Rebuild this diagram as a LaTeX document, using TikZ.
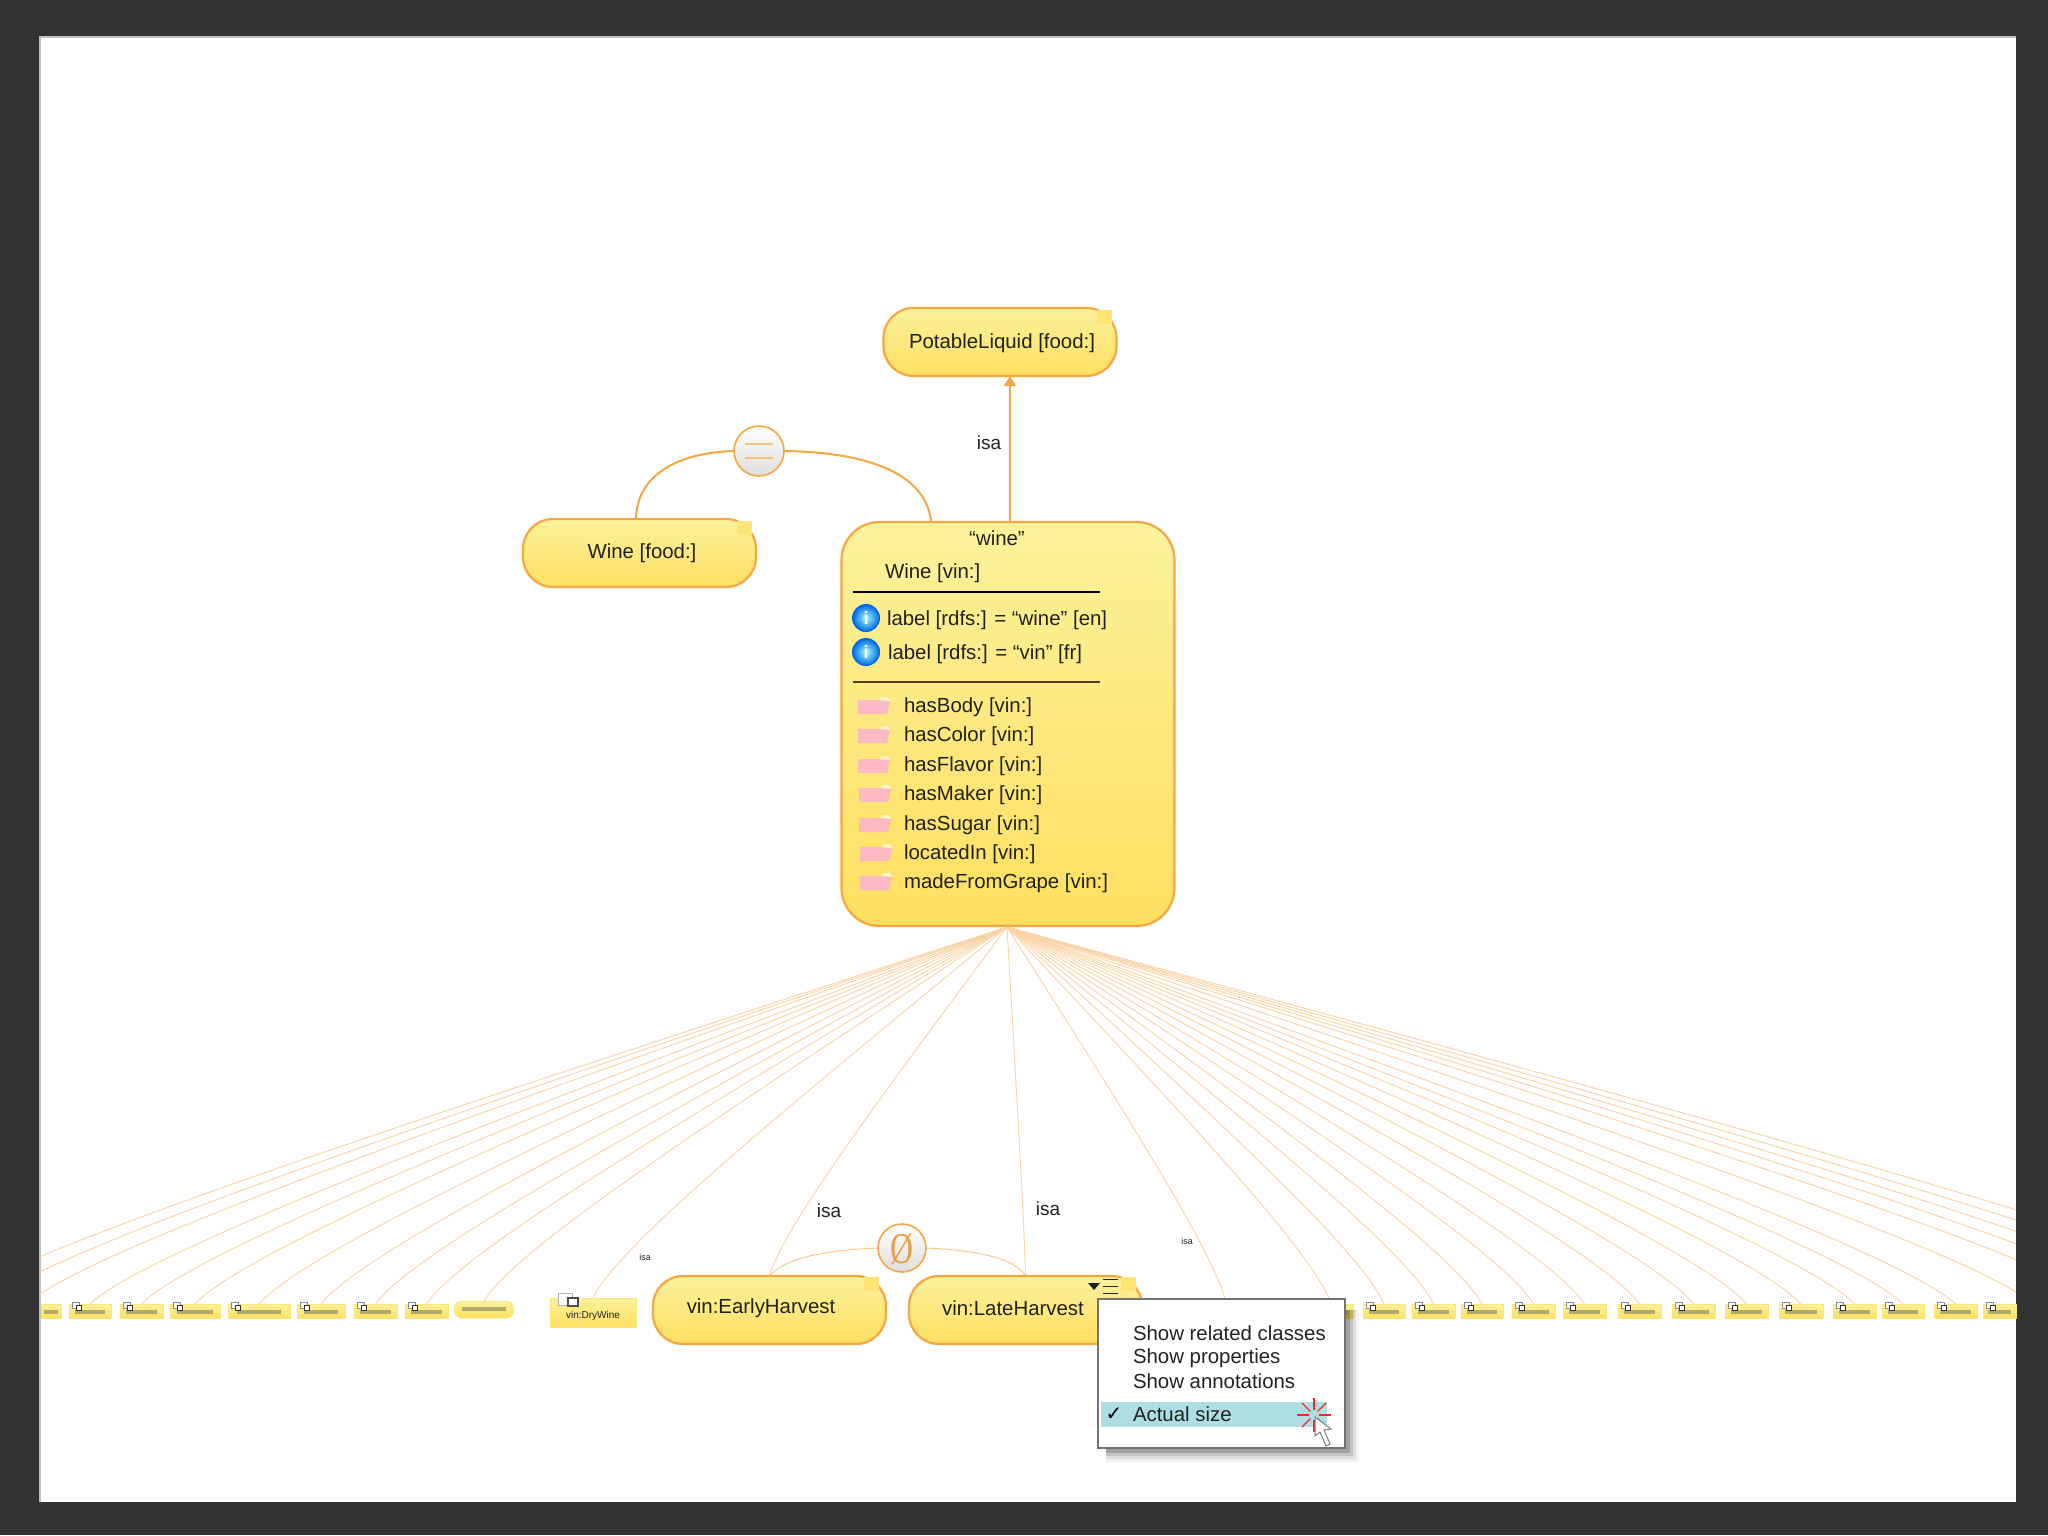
\documentclass[tikz,border=0pt]{standalone}
\usepackage{fontspec}
\setmainfont{Liberation Sans}
\newfontfamily\djfont{DejaVu Sans}
\newfontfamily\serfont{Liberation Serif}
\usetikzlibrary{calc,backgrounds,arrows.meta}
\definecolor{frameDark}{HTML}{333333}
\definecolor{edgeOr}{HTML}{F7A640}
\definecolor{edgeThin}{HTML}{FAD3A4}
\definecolor{yelTop}{HTML}{FBF29C}
\definecolor{yelBot}{HTML}{FFDF60}
\definecolor{txt}{HTML}{222222}
\definecolor{pinkF}{HTML}{FBB9C4}
\definecolor{hili}{HTML}{AEDDE4}
\tikzset{
  every node/.style={inner sep=0pt,outer sep=0pt,text=txt},
  t20/.style={font=\fontsize{20.4}{24}\selectfont},
  pill/.style={draw=edgeOr,line width=2.2pt,top color=yelTop,bottom color=yelBot,
    rounded corners=30pt,minimum width=#1,minimum height=68pt},
  pill/.default=233pt,
  mini/.style={draw=yelBot!85!white,line width=.5pt,top color=yelTop,bottom color=yelBot,minimum height=14pt},
  note/.style={fill=yelBot!70!yelTop,draw=yelBot!80!white,line width=.5pt},
  thick edge/.style={draw=edgeOr,line width=2pt},
  fan/.style={draw=edgeThin,line width=.9pt},
  ball/.style={circle,minimum size=27pt,draw=black!10!blue!60!cyan,line width=1pt,inner color=cyan!40!white,outer color=blue!55!cyan!90!black,text=white,font=\bfseries\fontsize{18}{18}\selectfont},
  orb/.style={circle,minimum size=48pt,draw=edgeOr,line width=1.6pt,top color=white,bottom color=black!13},
  mitem/.style={t20,anchor=west},
  prop/.style={t20,anchor=west}
}
\newcommand{\fanedge}[1]{%
  \path let \p1=(#1), \p2=(apex) in coordinate (kn) at ({\x1+.06*(\x2-\x1)},{\y1+.14*(\y2-\y1)});
  \draw[fan] (apex) .. controls ($(apex)!.6!(kn)$) and (kn) .. (#1);
}
\newcommand{\miniicon}[2]{%
  \draw[black!45,line width=.7pt,fill=white] (#1,#2) rectangle ++(7,-6);
  \draw[black!80,line width=1pt,fill=white] (#1+4,#2+2) rectangle ++(5.5,-5);
}
\begin{document}
\begin{tikzpicture}[x=1pt,y=-1pt]
\useasboundingbox (0,0) rectangle (2048,1535);
% ---- named nodes
\node[pill] (pot) at (1000,342) {};
\node[t20] (potT) at (1002,343) {PotableLiquid [food:]};
\node[pill] (wf) at (639.5,553) {};
\node[t20] (wfT) at (642,553) {Wine [food:]};
\node[draw=edgeOr,line width=2.2pt,top color=yelTop,bottom color=yelBot,rounded corners=38pt,minimum width=333pt,minimum height=404pt] (main) at (1008,724) {};
\coordinate (apex) at (1007,927);
\coordinate (arrowFoot) at (1010,522);
\coordinate (arrowHead) at (1010,376);
\coordinate (eqFoot) at (931,521);
\coordinate (wfFoot) at (636,520);
\node[orb,minimum size=50pt] (eq) at (759,451) {};
\draw[edgeOr!70,line width=2.6pt] (745,444) -- (773,444) (745,458) -- (773,458);
\node[orb] (eset) at (902,1248) {};
\node[font=\serfont\fontsize{44}{44}\selectfont,text=edgeOr!95!black,xscale=.72] (esetT) at (902,1249) {Ø};
\node[pill] (early) at (769.5,1310) {};
\node[t20] (earlyT) at (761,1308) {vin:EarlyHarvest};
\node[pill] (late) at (1025.5,1310) {};
\node[t20] (lateT) at (1013,1308) {vin:LateHarvest};
% note corners
\foreach \x/\y in {1097/310,737/521,864/1277,1121/1277}
  \fill[note] (\x,\y) rectangle ++(14,13);
% main node texts
\node[t20] (m0) at (997,538) {“wine”};
\node[prop] (m00) at (885,573) {Wine [vin:]};
\draw[black,line width=1.6pt] (853,592) -- (1100,592);
\node[ball] (i1) at (866,618) {i};
\node[ball] (i2) at (866,652) {i};
\node[prop] (l1) at (887,620) {label [rdfs:] = “wine” [en]};
\node[prop] (l2) at (888,654) {label [rdfs:] = “vin” [fr]};
\draw[black!55!brown,line width=2.4pt] (853,682) -- (1100,682);
\foreach \yy/\nm/\xx in {707/hasBody/858,736/hasColor/858,766/hasFlavor/858,795/hasMaker/859,825/hasSugar/859,854/locatedIn/860,883/madeFromGrape/860}{
  \fill[pinkF] (\xx,\yy-7) -- (\xx+22,\yy-7) -- (\xx+24,\yy-10) -- (\xx+30,\yy-10) -- (\xx+32,\yy-6) -- (\xx+29,\yy+7) -- (\xx,\yy+7) -- cycle;
  \fill[yelTop!60!white] (\xx+21,\yy-7) -- (\xx+24,\yy-10) -- (\xx+30,\yy-10) -- (\xx+32,\yy-6) -- cycle;
  \node[prop] (p\nm) at (904,\yy+.5) {\nm\ [vin:]};
}
% small nodes
\foreach \lf/\rg [count=\i] in {41/61,69/111,120/163,170/220,228/290,297/345,354/397,405/448,
  1193/1260,1310/1353,1363/1405,1412/1455,1461/1503,1512/1555,1563/1606,1618/1661,1672/1715,1725/1768,1779/1823,1833/1876,1882/1924,1934/1977,1983/2016}{
  \pgfmathsetmacro{\cx}{(\lf+\rg)/2}
  \pgfmathsetmacro{\bw}{\rg-\lf}
  \node[mini,minimum width=\bw pt] (m\i) at (\cx,1311) {};
  \fill[black!70,opacity=.4] (\cx-.36*\bw,1310) rectangle (\cx+.36*\bw,1314);
  \ifnum\i>1 \miniicon{\lf+3}{1308} \fi
}
\node[draw=yelBot!90!white,line width=.5pt,top color=yelTop,bottom color=yelBot,rounded corners=8pt,minimum width=60pt,minimum height=17pt] (ell) at (484,1309.5) {};
\fill[black!70,opacity=.4] (462,1307) rectangle (506,1311);
\node[mini,minimum width=86pt,minimum height=29pt] (dry) at (593,1312.5) {};
\draw[black!30,line width=1pt,fill=white] (558,1305) rectangle (572,1293);
\draw[black!70,line width=1.6pt,fill=white] (568,1306) rectangle (578,1298);
\node[font=\fontsize{10}{12}\selectfont] (dryT) at (593,1316) {vin:DryWine};
% labels
\node[font=\fontsize{19}{20}\selectfont] (isa1) at (989,443) {isa};
\node[font=\fontsize{19}{20}\selectfont] (isa2) at (829,1211) {isa};
\node[font=\fontsize{19}{20}\selectfont] (isa3) at (1048,1209) {isa};
\node[font=\fontsize{9}{9}\selectfont] (isa4) at (645,1257) {isa};
\node[font=\fontsize{9}{9}\selectfont] (isa5) at (1187,1241) {isa};
% menu icon on LateHarvest
\fill[txt] (1088,1283) -- (1100,1283) -- (1094,1290) -- cycle;
\draw[txt,line width=1pt] (1103,1279) -- (1118,1279) (1103,1286) -- (1118,1286) (1103,1293) -- (1118,1293);
% popup menu
\foreach \off/\opa in {14/.05,11/.08,8/.12,5/.17}
  \fill[black,opacity=\opa] (1106,1310) rectangle (1345+\off,1448+\off);
\node[draw=black!55,line width=2.5pt,fill=white,minimum width=247pt,minimum height=149pt] (menu) at (1221.5,1373.5) {};
\fill[hili] (1101,1402) rectangle (1327,1427);
\node[mitem] (mi1) at (1133,1333) {Show related classes};
\node[mitem] (mi2) at (1133,1358) {Show properties};
\node[mitem] (mi3) at (1133,1381) {Show annotations};
\node[mitem] (mi4) at (1133,1414) {Actual size};
\node[font=\djfont\bfseries\fontsize{20}{20}\selectfont,text=black] (chk) at (1114,1414) {✓};
\foreach \ang in {0,45,...,315}
  \draw[red!80!pink,line width=1.3pt] (1314,1415) ++(\ang:5) -- ++(\ang:12);
\draw[black!50,line width=1pt,fill=white] (1315,1417) -- (1315,1436) -- (1320,1432) -- (1326,1446) -- (1330,1444) -- (1324,1430) -- (1331,1429) -- cycle;
% ---- connectors and frame behind the nodes
\begin{scope}[on background layer]
  \fill[frameDark] (0,0) rectangle (2048,1535);
  \fill[white] (40,37) rectangle (2016,1502);
  \draw[black!25,line width=1.5pt] (40,1502) -- (40,37) -- (2016,37);
  \begin{scope}
    \clip (40,37) rectangle (2016,1502);
    \foreach \i in {2,...,22} { \fanedge{m\i.north} }
    \fanedge{ell.north}
    \fanedge{dry.north}
    \fanedge{early.north}
    \fanedge{late.north}
    \foreach \ex/\ey [count=\j] in {30/1302,-12/1302,-48/1302,2030/1302,2100/1302,2145/1302,2185/1302,2225/1302,2265/1302}{
      \coordinate (free\j) at (\ex,\ey);
      \fanedge{free\j}
    }
  \end{scope}
  \draw[edgeOr!60,line width=1pt] (eset.west) .. controls (825,1250) and (785,1258) .. (early.north);
  \draw[edgeOr!60,line width=1pt] (eset.east) .. controls (975,1250) and (1015,1258) .. (late.north);
  \draw[thick edge] (wfFoot) .. controls (636,480) and (670,453) .. (eq.west);
  \draw[thick edge] (eq.east) .. controls (860,452) and (925,470) .. (eqFoot);
  \draw[thick edge,-{Triangle[width=12pt,length=10pt]}] (arrowFoot) -- (arrowHead);
\end{scope}
\end{tikzpicture}
\end{document}
